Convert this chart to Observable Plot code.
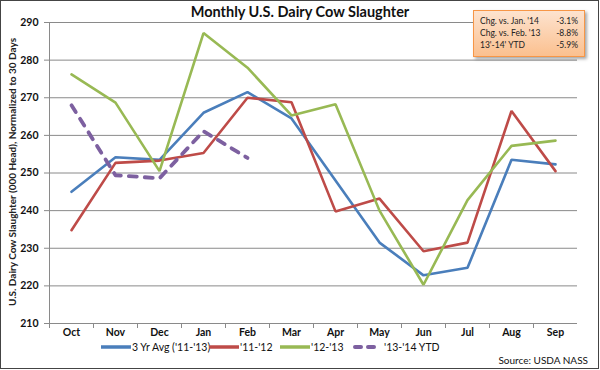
<!DOCTYPE html>
<html><head><meta charset="utf-8">
<script src="https://cdn.jsdelivr.net/npm/d3@7"></script>
<script src="https://cdn.jsdelivr.net/npm/@observablehq/plot@0.6"></script>
<style>
body{margin:0;background:#fff;font-family:Lato,"Open Sans",sans-serif;}
#wrap{position:relative;width:600px;height:370px;overflow:hidden;}
#frame{position:absolute;left:0;top:0;width:597px;height:367px;border:1px solid #444;box-sizing:content-box;pointer-events:none;}
#title{position:absolute;left:0;width:600px;top:3px;text-align:center;font-weight:bold;font-size:14.5px;color:#111;}
#ytitle{position:absolute;left:12px;top:172px;transform:translate(-50%,-50%) rotate(-90deg);white-space:nowrap;font-size:10px;font-weight:bold;color:#222;}
#box{position:absolute;left:473px;top:10px;width:110px;height:45px;border:1px solid #F79646;background:linear-gradient(#FDE3CF,#FBC08F);box-shadow:2px 2px 3px rgba(0,0,0,0.35);font-size:8.5px;color:#222;}
#box div{position:absolute;left:6px;right:6px;}
#box span.v{position:absolute;right:0;}
#legend{position:absolute;top:340px;left:0;width:600px;font-size:10.5px;color:#111;line-height:12px;}
.li{position:absolute;white-space:nowrap;}
#source{position:absolute;right:12px;top:354px;font-size:10px;color:#111;}
</style></head>
<body><div id="wrap">
<div id="chart"></div>
<div id="title">Monthly U.S. Dairy Cow Slaughter</div>
<div id="ytitle">U.S. Dairy Cow Slaughter (000 Head), Normalized to 30 Days</div>
<div id="box"></div>
<div id="legend"></div>
<div id="source">Source: USDA NASS</div>
<div id="frame"></div>
</div>
<script>
const months = ["Oct","Nov","Dec","Jan","Feb","Mar","Apr","May","Jun","Jul","Aug","Sep"];
const avg3yr = [245.0,254.2,253.5,266.0,271.5,264.5,248.0,231.5,222.8,224.8,253.5,252.3];
const y1112  = [234.8,252.7,253.3,255.3,270.0,268.8,239.8,243.2,229.2,231.5,266.5,250.5];
const y1213  = [276.2,268.7,250.5,287.2,278.0,265.3,268.3,240.0,220.3,242.8,257.2,258.6];
const y1314  = [268.0,249.4,248.6,261.1,254.0];
const seriesNames = ["3 Yr Avg ('11-'13)","'11-'12","'12-'13","'13-'14 YTD"];
const seriesColors = ["#4A7EBB","#BE4B48","#98B954","#7D60A0"];
const yTicks = [210,220,230,240,250,260,270,280,290];
const boxLabels = ["Chg. vs. Jan. '14","Chg. vs. Feb. '13","13'-14' YTD"];
const boxValues = ["-3.1%","-8.8%","-5.9%"];

const allSeries = [avg3yr,y1112,y1213,y1314];
const rows = allSeries.flatMap((arr,i)=>arr.map((v,j)=>({month:months[j],value:v,series:seriesNames[i]})));

const plot = Plot.plot({
  width:600,height:370,
  marginLeft:49,marginRight:23,marginTop:22,marginBottom:47,
  style:{fontFamily:"Lato, 'Open Sans', sans-serif",fontSize:"10.5px",color:"#111",background:"transparent"},
  x:{type:"point",domain:months,padding:0.5,label:null},
  y:{domain:[210,290],label:null},
  color:{domain:seriesNames,range:seriesColors},
  marks:[
    Plot.ruleY(yTicks,{stroke:"#8a8a8a",strokeWidth:1}),
    Plot.ruleX([0],{x:()=>months[0],dx:-22,stroke:"#8a8a8a"}),
    Plot.axisY({ticks:yTicks,tickSize:5,tickPadding:6,stroke:"#8a8a8a",fontWeight:"bold",fontSize:10.5,label:null}),
    Plot.axisX({tickSize:5,dx:-22,tickFormat:()=>"",stroke:"#8a8a8a",label:null}),
    Plot.axisX({tickSize:0,tickPadding:5,fontWeight:"bold",fontSize:10.5,label:null}),
    Plot.line(rows.filter(d=>d.series!==seriesNames[3]),{x:"month",y:"value",z:"series",stroke:"series",strokeWidth:2.6,strokeLinejoin:"miter"}),
    Plot.line(rows.filter(d=>d.series===seriesNames[3]),{x:"month",y:"value",stroke:"series",strokeWidth:3.8,strokeDasharray:"8,8",strokeLinecap:"round"})
  ]
});
document.getElementById("chart").appendChild(plot);

const box = document.getElementById("box");
boxLabels.forEach((l,i)=>{
  const d=document.createElement("div");
  d.style.top=(5+i*12)+"px";
  d.innerHTML=`<span>${l}</span><span class="v">${boxValues[i]}</span>`;
  box.appendChild(d);
});

const legend=document.getElementById("legend");
const lx=[101,209,280,353];
seriesNames.forEach((n,i)=>{
  const it=document.createElement("div");
  it.className="li";
  it.style.left=lx[i]+"px";
  const dash=i===3?'stroke-dasharray="6,7" stroke-linecap="round"':'';
  const sw=i===3?4:3.5;
  it.innerHTML=`<svg width="30" height="8" style="vertical-align:middle"><line x1="${i===3?2:0}" y1="4" x2="${i===3?28:30}" y2="4" stroke="${seriesColors[i]}" stroke-width="${sw}" ${dash}/></svg><span style="margin-left:1px;vertical-align:middle">${n}</span>`;
  legend.appendChild(it);
});
</script>
</body></html>
